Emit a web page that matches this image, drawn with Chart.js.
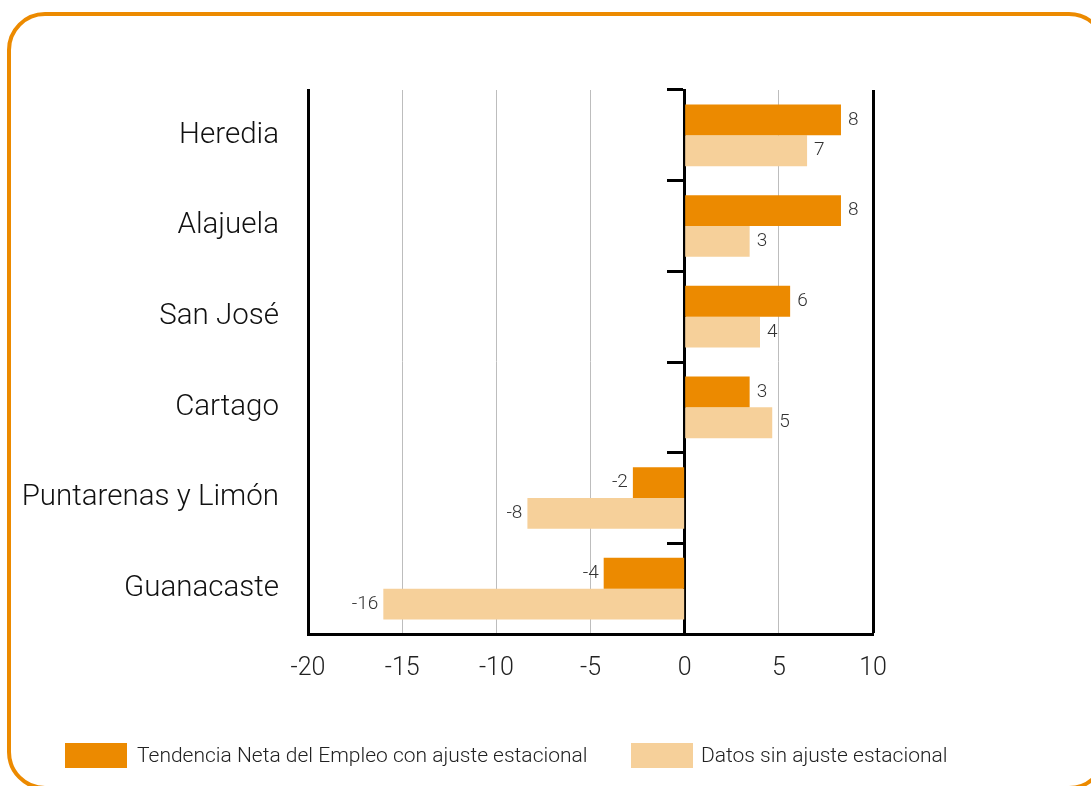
<!DOCTYPE html>
<html>
<head>
<meta charset="utf-8">
<script src="https://cdn.jsdelivr.net/npm/chart.js@4"></script>
<style>
  html, body { margin: 0; padding: 0; background: #fff; }
  body { width: 1091px; height: 786px; position: relative; overflow: hidden; font-family: Roboto, 'Liberation Sans', sans-serif; font-weight: 300; }
  #frame { position: absolute; left: 7px; top: 12px; width: 1092px; height: 770px; border: 4px solid #EC8A00; border-radius: 38px; }
  #wrap { position: absolute; left: 0; top: 0; width: 1091px; height: 786px; }
  .lg-box { position: absolute; top: 743px; width: 62px; height: 25px; }
  .lg-text { position: absolute; top: 741px; font-size: 21px; line-height: 28px; color: #222; white-space: nowrap; }
</style>
</head>
<body>
<div id="frame"></div>
<div id="wrap"><canvas id="chart" width="1091" height="786"></canvas></div>
<div id="legend"></div>
<script>
const regions = ['Heredia', 'Alajuela', 'San José', 'Cartago', 'Puntarenas y Limón', 'Guanacaste'];
const seriesNames = ['Tendencia Neta del Empleo con ajuste estacional', 'Datos sin ajuste estacional'];
// bar lengths as drawn in the picture
const ajustado = [8.3, 8.3, 5.6, 3.45, -2.75, -4.3];
const sinAjuste = [6.5, 3.45, 4.0, 4.65, -8.35, -16];
// printed labels
const ajustadoLabels = ['8', '8', '6', '3', '-2', '-4'];
const sinAjusteLabels = ['7', '3', '4', '5', '-8', '-16'];
const xTicks = [-20, -15, -10, -5, 0, 5, 10];
const colors = ['#EC8A00', '#F6D09A'];

const FONT = 'Roboto, "Liberation Sans", sans-serif';

const barLabels = {
  id: 'barLabels',
  afterDatasetsDraw(chart) {
    const ctx = chart.ctx;
    const texts = [ajustadoLabels, sinAjusteLabels];
    ctx.save();
    ctx.font = '300 19px ' + FONT;
    ctx.fillStyle = '#333';
    ctx.textBaseline = 'middle';
    chart.data.datasets.forEach((ds, i) => {
      chart.getDatasetMeta(i).data.forEach((bar, j) => {
        const v = ds.data[j];
        if (v >= 0) {
          ctx.textAlign = 'left';
          ctx.fillText(texts[i][j], bar.x + 7, bar.y);
        } else {
          ctx.textAlign = 'right';
          ctx.fillText(texts[i][j], bar.x - 5, bar.y);
        }
      });
    });
    ctx.restore();
  }
};

const chart = new Chart(document.getElementById('chart').getContext('2d'), {
  type: 'bar',
  data: {
    labels: regions,
    datasets: [
      { label: seriesNames[0], data: ajustado, backgroundColor: colors[0], categoryPercentage: 0.68, barPercentage: 1 },
      { label: seriesNames[1], data: sinAjuste, backgroundColor: colors[1], categoryPercentage: 0.68, barPercentage: 1 }
    ]
  },
  options: {
    indexAxis: 'y',
    responsive: false,
    animation: false,
    layout: { padding: { top: 90, right: 218, bottom: 0, left: 0 } },
    plugins: {
      legend: { display: false },
      tooltip: { enabled: false }
    },
    scales: {
      x: {
        min: -20,
        max: 10,
        afterBuildTicks: (scale) => { scale.ticks = xTicks.map(v => ({ value: v })); },
        afterFit: (scale) => { scale.height = 152; },
        border: { display: true, color: '#000', width: 3 },
        grid: {
          drawTicks: false,
          color: (c) => c.tick.value === 10 ? '#000' : ((c.tick.value === 0 || c.tick.value === -20) ? 'rgba(0,0,0,0)' : '#BDBDBD'),
          lineWidth: (c) => c.tick.value === 10 ? 3 : 1
        },
        ticks: { color: '#222', padding: 20, font: { family: FONT, size: 25, weight: 300 } }
      },
      y: {
        offset: true,
        afterFit: (scale) => { scale.width = 308; },
        border: { display: true, color: '#000', width: 3 },
        grid: { drawOnChartArea: false, drawTicks: false },
        ticks: { color: '#111', padding: 29, font: { family: FONT, size: 29.5, weight: 300 } }
      },
      y2: {
        type: 'category',
        axis: 'y',
        position: { x: 0 },
        offset: true,
        z: 1,
        border: { display: true, color: '#000', width: 3 },
        grid: { offset: true, drawOnChartArea: false, drawTicks: true, tickLength: 16, tickWidth: 3, tickColor: '#000' },
        ticks: { display: false }
      }
    }
  },
  plugins: [barLabels]
});

// legend built from the series names
const legend = document.getElementById('legend');
const lgPos = [[65, 137], [631, 701]];
seriesNames.forEach((name, i) => {
  const box = document.createElement('div');
  box.className = 'lg-box';
  box.style.left = lgPos[i][0] + 'px';
  box.style.background = colors[i];
  const txt = document.createElement('div');
  txt.className = 'lg-text';
  txt.style.left = lgPos[i][1] + 'px';
  txt.textContent = name;
  legend.appendChild(box);
  legend.appendChild(txt);
});
</script>
</body>
</html>
